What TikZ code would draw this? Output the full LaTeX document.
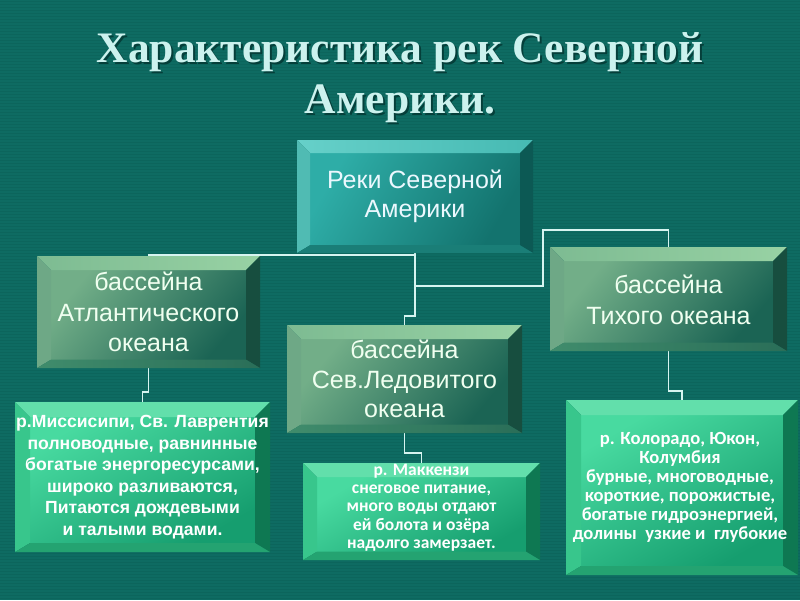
\documentclass[tikz,border=0pt]{standalone}
\usepackage{fontspec}
\setmainfont{Liberation Sans}
\newfontfamily\titlefont{Liberation Serif}
\newfontfamily\calfont{Carlito}
\usetikzlibrary{calc}
\definecolor{bgteal}{HTML}{0E6B62}
\definecolor{bgstripe}{HTML}{0C655C}
\definecolor{titlecol}{HTML}{CCF2EE}
\definecolor{titleshadow}{HTML}{053F3A}
\definecolor{conncol}{HTML}{D6F4F0}
\definecolor{cRface1}{HTML}{2EADA7}
\definecolor{cRface2}{HTML}{13736E}
\definecolor{cRtop1}{HTML}{66D0C9}
\definecolor{cRtop2}{HTML}{46BAB3}
\definecolor{cRleft}{HTML}{50BBB3}
\definecolor{cRright}{HTML}{0C5954}
\definecolor{cRbot}{HTML}{1A7E77}
\definecolor{cMface1}{HTML}{72AE88}
\definecolor{cMface2}{HTML}{2E7E6A}
\definecolor{cMface3}{HTML}{1B6454}
\definecolor{cMtop1}{HTML}{7DBB92}
\definecolor{cMtop2}{HTML}{98D2A4}
\definecolor{cMleft}{HTML}{6EA886}
\definecolor{cMright}{HTML}{174E3F}
\definecolor{cMbot1}{HTML}{408C6C}
\definecolor{cMbot2}{HTML}{2A6E58}
\definecolor{cGface1}{HTML}{48DAA0}
\definecolor{cGface2}{HTML}{2BBD86}
\definecolor{cGface3}{HTML}{169E6F}
\definecolor{cGtop}{HTML}{62DFAB}
\definecolor{cGleft}{HTML}{38C68C}
\definecolor{cGright}{HTML}{0E7852}
\definecolor{cGbot}{HTML}{24A371}
\tikzset{
  conn/.style={draw=conncol, line width=1.6pt},
  boxnode/.style={draw=none, inner sep=0pt, align=center, text=white},
  titletext/.style={anchor=base, font=\titlefont\bfseries\fontsize{43.5}{48}\selectfont},
  r face/.style={top color=cRface1, bottom color=cRface2, shading angle=60},
  r top/.style={left color=cRtop1, right color=cRtop2},
  r left/.style={fill=cRleft},
  r right/.style={fill=cRright},
  r bot/.style={fill=cRbot},
  m face/.style={top color=cMface1, middle color=cMface2, bottom color=cMface3, shading angle=50},
  m top/.style={left color=cMtop1, right color=cMtop2},
  m left/.style={fill=cMleft},
  m right/.style={fill=cMright},
  m bot/.style={left color=cMbot1, right color=cMbot2},
  g face/.style={top color=cGface1, middle color=cGface2, bottom color=cGface3, shading angle=30},
  g top/.style={fill=cGtop},
  g left/.style={fill=cGleft},
  g right/.style={fill=cGright},
  g bot/.style={fill=cGbot},
}
% #1 x1, #2 y1, #3 x2, #4 y2, #5 bevel, #6 scheme
\newcommand\bevbox[6]{%
  \path[#6 face] (#1+#5,#2+#5) rectangle (#3-#5,#4-0.6*#5);
  \path[#6 top] (#1,#2) -- (#3,#2) -- (#3-#5,#2+#5) -- (#1+#5,#2+#5) -- cycle;
  \path[#6 left] (#1,#2) -- (#1+#5,#2+#5) -- (#1+#5,#4-0.6*#5) -- (#1,#4) -- cycle;
  \path[#6 right] (#3,#2) -- (#3,#4) -- (#3-#5,#4-0.6*#5) -- (#3-#5,#2+#5) -- cycle;
  \path[#6 bot] (#1,#4) -- (#3,#4) -- (#3-#5,#4-0.6*#5) -- (#1+#5,#4-0.6*#5) -- cycle;
}
\begin{document}
\begin{tikzpicture}[x=1pt,y=-1pt]
\useasboundingbox (0,0) rectangle (800,600);
\fill[bgteal] (0,0) rectangle (800,600);
\foreach \yy in {1,4,...,600} \draw[bgstripe, line width=0.8pt] (0,\yy) -- (800,\yy);

% title with shadow
\node[titletext, text=titleshadow] (t1s) at (402,64) {Характеристика рек Северной};
\node[titletext, text=titleshadow] (t2s) at (402,115) {Америки.};
\node[titletext, text=titlecol] (t1) at (400,62) {Характеристика рек Северной};
\node[titletext, text=titlecol] (t2) at (400,113) {Америки.};

% box nodes (invisible, for anchors)
\node[boxnode, minimum width=236pt, minimum height=113pt] (root) at (415,196.5) {};
\node[boxnode, minimum width=223pt, minimum height=112pt] (atl) at (148.5,312) {};
\node[boxnode, minimum width=235pt, minimum height=108pt] (arc) at (404.5,379) {};
\node[boxnode, minimum width=237pt, minimum height=104pt] (pac) at (668.5,299) {};
\node[boxnode, minimum width=255pt, minimum height=150pt] (bl) at (142.5,477) {};
\node[boxnode, minimum width=237pt, minimum height=97pt] (bm) at (421.5,511.5) {};
\node[boxnode, minimum width=232pt, minimum height=175pt] (br) at (682,487.5) {};

% connectors
\coordinate (k2) at (404.5,316);
\coordinate (k3a) at (415,286);
\coordinate (k3b) at (543,230);
\coordinate (k4) at (148.5,392);
\coordinate (k5) at (404.5,453);
\coordinate (k6) at (668.5,391);
\draw[conn] (root.south) -- ++(0,2) -| (atl.north);
\draw[conn] (root.south) |- (k2) -- (arc.north);
\draw[conn] (k3a) -| (k3b) -| (pac.north);
\draw[conn] (atl.south) -- (k4) -| (bl.north);
\draw[conn] (arc.south) -- (k5) -| (bm.north);
\draw[conn] (pac.south) -- (k6) -| (br.north);

% boxes
\bevbox{297}{140}{533}{253}{13}{r}
\bevbox{37}{256}{260}{368}{14}{m}
\bevbox{287}{325}{522}{433}{14}{m}
\bevbox{550}{247}{787}{351}{14}{m}
\bevbox{15}{402}{270}{552}{15}{g}
\bevbox{303}{463}{540}{560}{14}{g}
\bevbox{566}{400}{798}{575}{15}{g}

% texts
\node[boxnode, text=white!92!cyan, font=\fontsize{25}{28.5}\selectfont] (roottext) at (root.center) {Реки Северной\\Америки};
\node[boxnode, text=white!94!green, font=\fontsize{25}{30.5}\selectfont] (atltext) at (atl.center) {бассейна\\Атлантического\\океана};
\node[boxnode, text=white!94!green, font=\fontsize{25}{29.5}\selectfont] (arctext) at (arc.center) {бассейна\\Сев.Ледовитого\\океана};
\node[boxnode, text=white!94!green, font=\fontsize{25}{30.5}\selectfont] (pactext) at ($(pac.center)+(0,1)$) {бассейна\\Тихого океана};
\node[boxnode, font=\bfseries\fontsize{17.6}{21.5}\selectfont] (bltext) at ($(bl.center)+(0,0)$) {р.Миссисипи, Св. Лаврентия\\полноводные, равнинные\\богатые энергоресурсами,\\широко разливаются,\\Питаются дождевыми\\и талыми водами.};
\node[boxnode, font=\calfont\bfseries\fontsize{17.5}{18.3}\selectfont] (bmtext) at ($(bm.center)+(0,-4)$) {р. Маккензи\\снеговое питание,\\много воды отдают\\ей болота и озёра\\надолго замерзает.};
\node[boxnode, font=\calfont\bfseries\fontsize{18.6}{19}\selectfont] (brtext) at ($(br.center)+(-2,0)$) {р. Колорадо, Юкон,\\Колумбия\\бурные, многоводные,\\короткие, порожистые,\\богатые гидроэнергией,\\долины\ \ узкие и\ \ глубокие};
\end{tikzpicture}
\end{document}
